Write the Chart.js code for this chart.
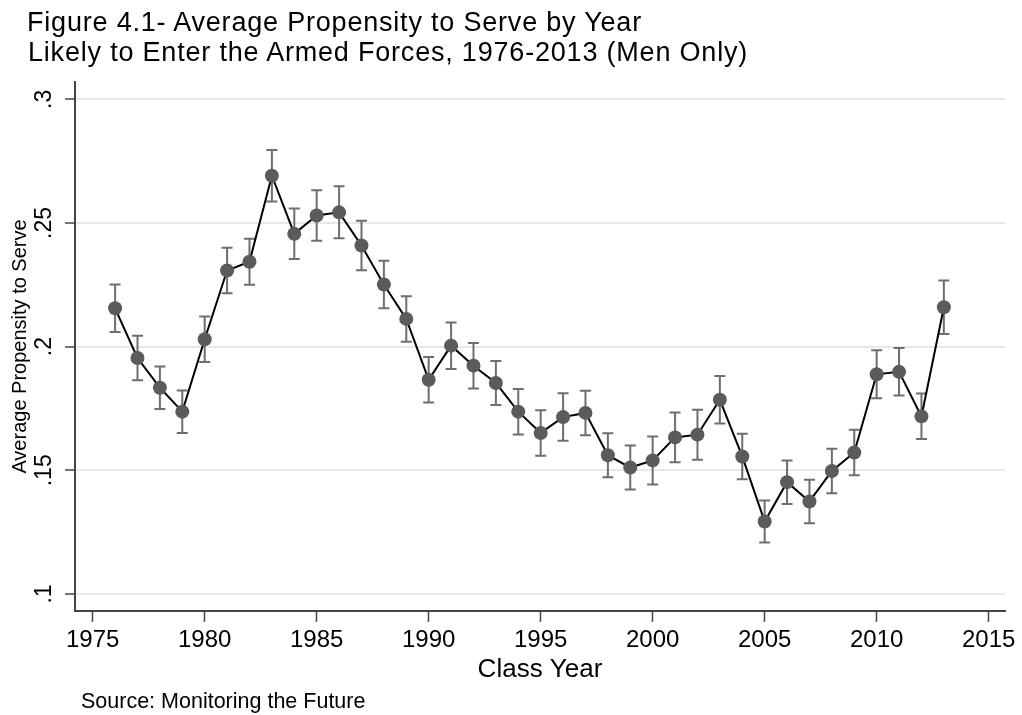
<!DOCTYPE html>
<html>
<head>
<meta charset="utf-8">
<script src="https://cdn.jsdelivr.net/npm/chart.js@4.4.0/dist/chart.umd.min.js"></script>
<style>
  body { margin: 0; background: #fff; }
  #wrap { position: relative; width: 1022px; height: 715px; }
  #chart { position: absolute; left: 0; top: 0; }
  .txt { position: absolute; font-family: "Liberation Sans", Arial, Helvetica, sans-serif; color: #000; white-space: nowrap; }
  .title { font-size: 27px; line-height: 30px; letter-spacing: 0.8px; }
  .note { font-size: 21.5px; line-height: 25px; }
</style>
</head>
<body>
<div id="wrap">
  <canvas id="chart" width="1022" height="715"></canvas>
  <div class="txt title" style="left:27px; top:7px;">Figure 4.1- Average Propensity to Serve by Year</div>
  <div class="txt title" style="left:28px; top:37px;">Likely to Enter the Armed Forces, 1976-2013 (Men Only)</div>
  <div class="txt note" style="left:81px; top:689px;">Source: Monitoring the Future</div>
</div>
<script>
// class years and mean propensity to serve, with the 95% CI half-width
const years = [1976, 1977, 1978, 1979, 1980, 1981, 1982, 1983, 1984, 1985,
               1986, 1987, 1988, 1989, 1990, 1991, 1992, 1993, 1994, 1995,
               1996, 1997, 1998, 1999, 2000, 2001, 2002, 2003, 2004, 2005,
               2006, 2007, 2008, 2009, 2010, 2011, 2012, 2013];
const propensity = [0.2155, 0.1954, 0.1834, 0.1737, 0.2030, 0.2308, 0.2343, 0.2691, 0.2456, 0.2530,
                    0.2543, 0.2409, 0.2251, 0.2112, 0.1866, 0.2004, 0.1923, 0.1853, 0.1737, 0.1651,
                    0.1715, 0.1732, 0.1561, 0.1511, 0.1540, 0.1633, 0.1644, 0.1785, 0.1556, 0.1293,
                    0.1452, 0.1374, 0.1497, 0.1572, 0.1888, 0.1898, 0.1718, 0.2159];
const ciHalf = [0.0096, 0.0090, 0.0086, 0.0086, 0.0092, 0.0092, 0.0093, 0.0104, 0.0102, 0.0102,
                0.0105, 0.0100, 0.0096, 0.0092, 0.0092, 0.0094, 0.0092, 0.0089, 0.0092, 0.0092,
                0.0096, 0.0090, 0.0089, 0.0089, 0.0097, 0.0101, 0.0101, 0.0096, 0.0092, 0.0085,
                0.0088, 0.0088, 0.0090, 0.0092, 0.0097, 0.0096, 0.0092, 0.0108];
const xTicks = [1975, 1980, 1985, 1990, 1995, 2000, 2005, 2010, 2015];
const yTicks = [0.1, 0.15, 0.2, 0.25, 0.3];

Chart.defaults.font.family = '"Liberation Sans", Arial, Helvetica, sans-serif';
Chart.defaults.color = '#000';

// capped CI bars, drawn under the connected line
const errorBars = {
    id: 'errorBars',
    beforeDatasetsDraw(chart) {
        const ctx = chart.ctx;
        const xs = chart.scales.x, ys = chart.scales.y;
        ctx.save();
        ctx.strokeStyle = '#6e6e6e';
        ctx.lineWidth = 2;
        years.forEach((yr, i) => {
            const x = xs.getPixelForValue(yr);
            const top = ys.getPixelForValue(propensity[i] + ciHalf[i]);
            const bot = ys.getPixelForValue(propensity[i] - ciHalf[i]);
            ctx.beginPath();
            ctx.moveTo(x, top); ctx.lineTo(x, bot);
            ctx.moveTo(x - 5.5, top); ctx.lineTo(x + 5.5, top);
            ctx.moveTo(x - 5.5, bot); ctx.lineTo(x + 5.5, bot);
            ctx.stroke();
        });
        ctx.restore();
    }
};

function noEdgePadding(scale) {
    scale.paddingLeft = scale.paddingRight = scale.paddingTop = scale.paddingBottom = 0;
}

new Chart(document.getElementById('chart'), {
    type: 'line',
    data: {
        datasets: [{
            data: years.map((yr, i) => ({ x: yr, y: propensity[i] })),
            borderColor: '#000',
            borderWidth: 2,
            tension: 0,
            pointRadius: 7,
            pointHoverRadius: 7,
            pointBackgroundColor: '#5b5b5b',
            pointBorderWidth: 0
        }]
    },
    options: {
        responsive: false,
        animation: false,
        layout: { padding: { top: 82, right: 17, bottom: 0, left: 0 } },
        plugins: { legend: { display: false }, tooltip: { enabled: false } },
        scales: {
            x: {
                type: 'linear',
                min: 1974.21,
                max: 2015.73,
                afterBuildTicks: scale => { scale.ticks = xTicks.map(v => ({ value: v })); },
                afterFit: scale => { scale.height = 104; noEdgePadding(scale); },
                grid: { drawOnChartArea: false, tickLength: 11, tickColor: '#444', tickWidth: 1.5 },
                border: { color: '#444', width: 2 },
                ticks: { font: { size: 24 }, padding: 4, maxRotation: 0, callback: v => String(v) },
                title: { display: true, text: 'Class Year', font: { size: 26 }, padding: { top: 0, bottom: 30 } }
            },
            y: {
                min: 0.0931,
                max: 0.307,
                afterBuildTicks: scale => { scale.ticks = yTicks.map(v => ({ value: v })); },
                afterFit: scale => { scale.width = 75; noEdgePadding(scale); },
                grid: { color: '#e8e8e8', lineWidth: 2, tickLength: 10, tickColor: '#444', tickWidth: 1.5 },
                border: { color: '#444', width: 2 },
                ticks: {
                    font: { size: 23 },
                    padding: 4,
                    minRotation: 90,
                    maxRotation: 90,
                    crossAlign: 'center',
                    callback: v => String(+v.toFixed(2)).replace(/^0/, '')
                },
                title: { display: true, text: 'Average Propensity to Serve', font: { size: 20 }, padding: { top: 8, bottom: 0 } }
            }
        }
    },
    plugins: [errorBars]
});
</script>
</body>
</html>
